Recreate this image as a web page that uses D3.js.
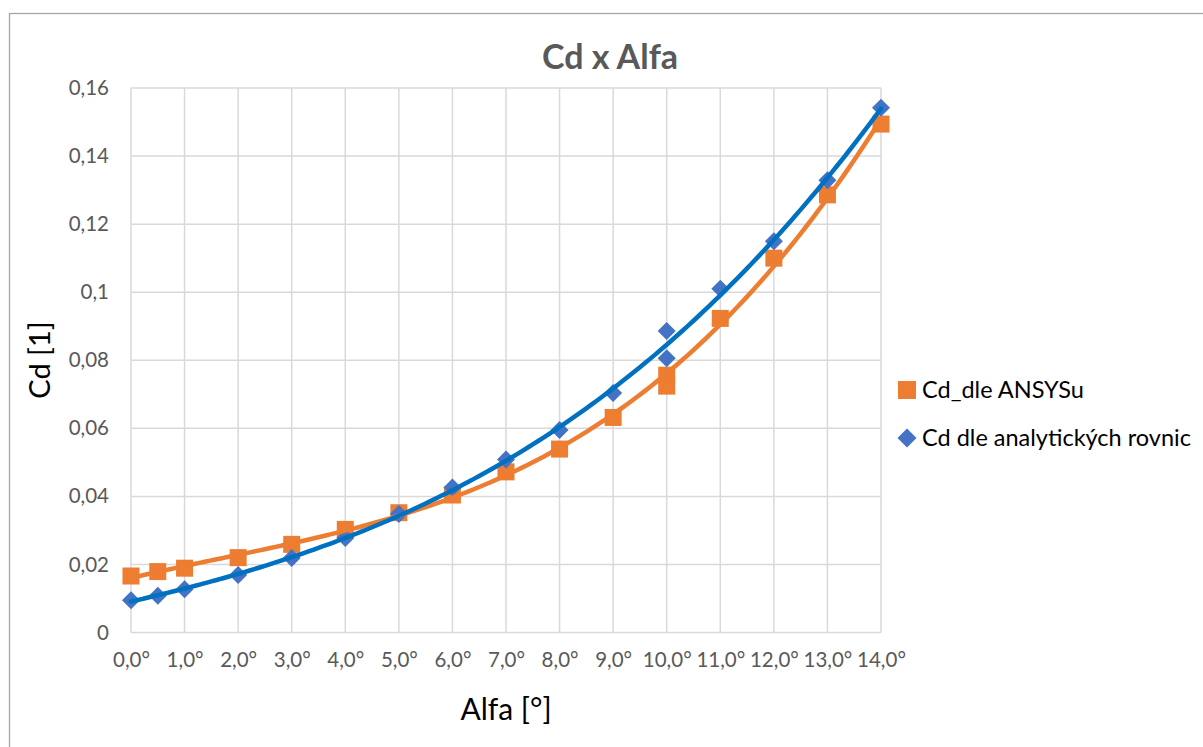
<!DOCTYPE html>
<html>
<head>
<meta charset="utf-8">
<script src="https://cdn.jsdelivr.net/npm/d3@7"></script>
<style>
  html, body { margin: 0; padding: 0; background: #fff; }
  svg { display: block; font-family: Lato, "Open Sans", sans-serif; }
</style>
</head>
<body>
<svg id="chart" width="1203" height="747"></svg>
<script>
// Angle of attack [deg] and drag coefficients
const alphaAnsys = [0, 0.5, 1, 2, 3, 4, 5, 6, 7, 8, 9, 10, 10, 11, 12, 13, 14];
const cdAnsys    = [0.0166, 0.0179, 0.0189, 0.0220, 0.0259, 0.0303, 0.0352, 0.0404, 0.0472, 0.0539,
                    0.0632, 0.0756, 0.0724, 0.0923, 0.1100, 0.1286, 0.1494];
const alphaAnalytic = [0, 0.5, 1, 2, 3, 4, 5, 6, 7, 8, 9, 10, 10, 11, 12, 13, 14];
const cdAnalytic    = [0.0095, 0.0108, 0.0127, 0.0169, 0.0219, 0.0278, 0.0348, 0.0426, 0.0508, 0.0595,
                       0.0704, 0.0886, 0.0806, 0.1010, 0.1150, 0.1329, 0.1542];
const xTicks = [0, 1, 2, 3, 4, 5, 6, 7, 8, 9, 10, 11, 12, 13, 14];
const yTicks = [0, 0.02, 0.04, 0.06, 0.08, 0.1, 0.12, 0.14, 0.16];
const seriesNames = ["Cd_dle ANSYSu", "Cd dle analytických rovnic"];

const svg = d3.select("#chart");
const W = 1203, H = 747;
const plot = { left: 131, right: 881, top: 88, bottom: 632.5 };

const x = d3.scaleLinear().domain([0, 14]).range([plot.left, plot.right]);
const y = d3.scaleLinear().domain([0, 0.16]).range([plot.bottom, plot.top]);

const grid = "#D9D9D9", textGrey = "#595959";
const orange = "#ED7D31", blueMarker = "#4472C4", blueLine = "#0070C0";

// Chart frame
svg.append("rect")
  .attr("x", 9.5).attr("y", 13.5).attr("width", W + 20).attr("height", H + 20)
  .attr("fill", "#fff").attr("stroke", "#A6A6A6").attr("stroke-width", 1.3);

// Title
svg.append("text").attr("x", 610).attr("y", 69)
  .attr("text-anchor", "middle").attr("font-weight", 700).attr("font-size", 34)
  .attr("fill", textGrey).text("Cd x Alfa");

// Gridlines
const g = svg.append("g");
g.selectAll("line.h").data(yTicks).join("line")
  .attr("x1", plot.left).attr("x2", plot.right)
  .attr("y1", d => y(d)).attr("y2", d => y(d))
  .attr("stroke", grid).attr("stroke-width", 1.5);
g.selectAll("line.v").data(xTicks).join("line")
  .attr("x1", d => x(d)).attr("x2", d => x(d))
  .attr("y1", plot.top).attr("y2", plot.bottom)
  .attr("stroke", grid).attr("stroke-width", 1.5);

// Axes (labels only; lines drawn as gridlines)
const yAxis = d3.axisLeft(y).tickValues(yTicks).tickSize(0).tickPadding(22)
  .tickFormat(d => d === 0 ? "0" : String(+d.toFixed(2)).replace(".", ","));
const ya = svg.append("g").attr("transform", `translate(${plot.left},0)`).call(yAxis);
const xAxis = d3.axisBottom(x).tickValues(xTicks).tickSize(0).tickPadding(20)
  .tickFormat(d => d.toFixed(1).replace(".", ",") + "°");
const xa = svg.append("g").attr("transform", `translate(0,${plot.bottom})`).call(xAxis);
[ya, xa].forEach(a => {
  a.select(".domain").remove();
  a.selectAll("text").attr("font-size", 20.5).attr("fill", textGrey).attr("font-family", "Lato, sans-serif");
});

// Axis titles
svg.append("text").attr("x", 506).attr("y", 720)
  .attr("text-anchor", "middle").attr("font-size", 30).attr("fill", "#000").text("Alfa [°]");
svg.append("text").attr("transform", "translate(50,360) rotate(-90)")
  .attr("text-anchor", "middle").attr("font-size", 29).attr("fill", "#000").text("Cd [1]");

// Least-squares polynomial trendline
function polyFit(xs, ys, deg) {
  const n = deg + 1;
  const A = Array.from({ length: n }, () => new Array(n + 1).fill(0));
  xs.forEach((xv, k) => {
    for (let i = 0; i < n; i++) {
      for (let j = 0; j < n; j++) A[i][j] += Math.pow(xv, i + j);
      A[i][n] += ys[k] * Math.pow(xv, i);
    }
  });
  for (let c = 0; c < n; c++) {
    let p = c;
    for (let r = c + 1; r < n; r++) if (Math.abs(A[r][c]) > Math.abs(A[p][c])) p = r;
    [A[c], A[p]] = [A[p], A[c]];
    for (let r = 0; r < n; r++) {
      if (r === c) continue;
      const f = A[r][c] / A[c][c];
      for (let k = c; k <= n; k++) A[r][k] -= f * A[c][k];
    }
  }
  const coef = A.map((row, i) => row[n] / row[i]);
  return xv => coef.reduce((s, c, i) => s + c * Math.pow(xv, i), 0);
}

const series = [
  { name: seriesNames[0], xs: alphaAnsys, ys: cdAnsys, marker: "square", mc: orange, lc: orange },
  { name: seriesNames[1], xs: alphaAnalytic, ys: cdAnalytic, marker: "diamond", mc: blueMarker, lc: blueLine }
];

const squareSym = d3.symbol().type(d3.symbolSquare).size(17 * 17);
const diamondPath = s => `M0,${-s}L${s},0L0,${s}L${-s},0Z`;

series.forEach(s => {
  const pts = s.xs.map((xv, i) => ({ x: xv, y: s.ys[i] }));
  const mg = svg.append("g");
  if (s.marker === "square") {
    mg.selectAll("path").data(pts).join("path")
      .attr("d", squareSym).attr("fill", s.mc)
      .attr("transform", d => `translate(${x(d.x)},${y(d.y)})`);
  } else {
    mg.selectAll("path").data(pts).join("path")
      .attr("d", diamondPath(9)).attr("fill", s.mc)
      .attr("transform", d => `translate(${x(d.x)},${y(d.y)})`);
  }
});

// Trendlines drawn above the markers
series.forEach(s => {
  const f = polyFit(s.xs, s.ys, 3);
  const samples = d3.range(0, 14.001, 0.1);
  svg.append("path")
    .datum(samples)
    .attr("d", d3.line().x(d => x(d)).y(d => y(f(d))).curve(d3.curveMonotoneX))
    .attr("fill", "none").attr("stroke", s.lc).attr("stroke-width", 4.5)
    .attr("stroke-linecap", "round");
});

// Legend
const lg = svg.append("g");
const legendY = [390, 438];
series.forEach((s, i) => {
  const row = lg.append("g").attr("transform", `translate(907,${legendY[i]})`);
  if (s.marker === "square") row.append("path").attr("d", d3.symbol().type(d3.symbolSquare).size(18 * 18)).attr("fill", s.mc);
  else row.append("path").attr("d", diamondPath(9.5)).attr("fill", s.mc);
  row.append("text").attr("x", 15).attr("y", 8).attr("font-size", 23.5).attr("fill", "#000").text(s.name);
});
</script>
</body>
</html>
